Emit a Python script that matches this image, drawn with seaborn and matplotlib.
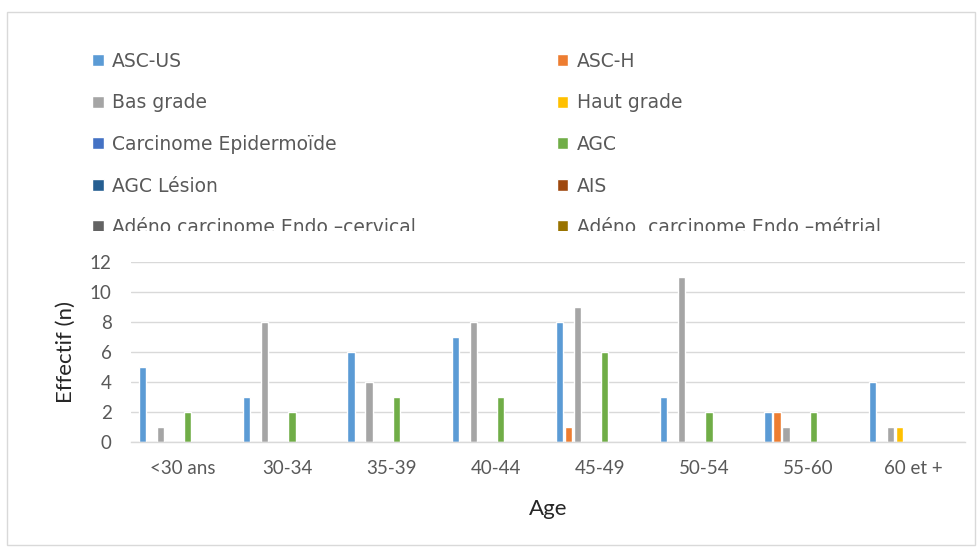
import matplotlib
matplotlib.use("Agg")
import matplotlib.pyplot as plt
from matplotlib.patches import Rectangle
import seaborn as sns
import pandas as pd

# Age groups and counts per cytology result
age_groups = ["<30 ans", "30-34", "35-39", "40-44", "45-49", "50-54", "55-60", "60 et +"]
series_names = [
    "ASC-US", "ASC-H", "Bas grade", "Haut grade", "Carcinome Epidermoïde",
    "AGC", "AGC Lésion", "AIS", "Adéno carcinome Endo \u2013cervical",
    "Adéno  carcinome Endo \u2013métrial",
]
asc_us = [5, 3, 6, 7, 8, 3, 2, 4]
asc_h = [0, 0, 0, 0, 1, 0, 2, 0]
bas_grade = [1, 8, 4, 8, 9, 11, 1, 1]
haut_grade = [0, 0, 0, 0, 0, 0, 0, 1]
carcinome_epidermoide = [0, 0, 0, 0, 0, 0, 0, 0]
agc = [2, 2, 3, 3, 6, 2, 2, 0]
agc_lesion = [0, 0, 0, 0, 0, 0, 0, 0]
ais = [0, 0, 0, 0, 0, 0, 0, 0]
adeno_cervical = [0, 0, 0, 0, 0, 0, 0, 0]
adeno_metrial = [0, 0, 0, 0, 0, 0, 0, 0]
colors = ["#5B9BD5", "#ED7D31", "#A5A5A5", "#FFC000", "#4472C4",
          "#70AD47", "#255E91", "#9E480E", "#636363", "#997300"]

values = [asc_us, asc_h, bas_grade, haut_grade, carcinome_epidermoide,
          agc, agc_lesion, ais, adeno_cervical, adeno_metrial]
rows = []
for name, vals in zip(series_names, values):
    for g, v in zip(age_groups, vals):
        rows.append({"Age": g, "Type": name, "Effectif": v})
df = pd.DataFrame(rows)

sns.set_style("white")
plt.rcParams["font.family"] = ["Lato", "DejaVu Sans"]

fig = plt.figure(figsize=(9.8, 5.47), dpi=100)
W, H = 980, 547
ax = fig.add_axes([131 / W, 1 - 442 / H, (965 - 131) / W, 180 / H])

sns.barplot(data=df, x="Age", y="Effectif", hue="Type", order=age_groups,
            hue_order=series_names, palette=colors, width=0.866, gap=0.2,
            saturation=1, errorbar=None, ax=ax, legend=True)

ax.set_ylim(0, 12)
ax.set_yticks(range(0, 13, 2))
ax.set_xlim(-0.5, len(age_groups) - 0.5)
ax.yaxis.grid(True, color="#D9D9D9", linewidth=1)
ax.set_axisbelow(True)
for s in ["top", "right", "left"]:
    ax.spines[s].set_visible(False)
ax.spines["bottom"].set_color("#D9D9D9")
ax.spines["bottom"].set_linewidth(1)
ax.tick_params(axis="both", length=0, labelsize=13.5, labelcolor="#595959")
ax.tick_params(axis="y", pad=14)
ax.tick_params(axis="x", pad=13)
ax.set_xlabel("Age", fontsize=16, color="#262626", labelpad=15.5)
ax.set_ylabel("Effectif (n)", fontsize=16, color="#262626", labelpad=10)

# key laid out row by row: two entries per row
handles, labels = ax.get_legend_handles_labels()
order = list(range(0, 10, 2)) + list(range(1, 10, 2))
ax.legend([handles[i] for i in order], [labels[i] for i in order], ncol=2,
          loc="upper left", bbox_to_anchor=(92 / W, 1 - 52 / H),
          bbox_transform=fig.transFigure, frameon=False,
          borderpad=0, borderaxespad=0,
          prop={"family": "DejaVu Sans", "size": 13.5}, labelcolor="#595959",
          handlelength=0.62, handleheight=0.62, handletextpad=0.45,
          labelspacing=1.2, columnspacing=7.5)

# clip the bottom of the key, and frame the chart area
fig.add_artist(Rectangle((0, 1 - 252 / H), 1, 21 / H, transform=fig.transFigure,
                         facecolor="white", edgecolor="none", zorder=10))
fig.add_artist(Rectangle((7 / W, 1 - 545 / H), 968 / W, 533 / H,
                         transform=fig.transFigure, fill=False,
                         edgecolor="#D9D9D9", linewidth=1, zorder=11))

fig.savefig("out.png", dpi=100)
